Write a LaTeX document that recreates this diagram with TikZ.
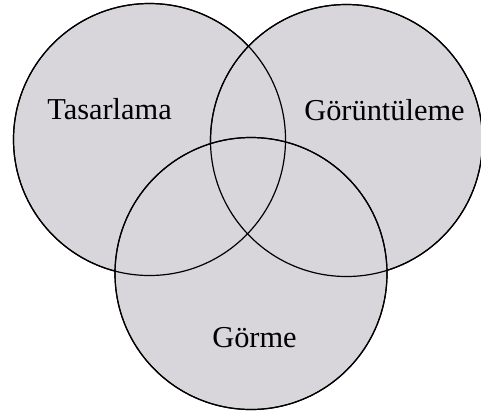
\documentclass[tikz,border=0pt]{standalone}
\usepackage{fontspec}
\setmainfont{Liberation Serif}
\definecolor{vennfill}{RGB}{216,214,219}
\tikzset{
  venn/.style={circle, draw=black, fill=vennfill, line width=1.2bp, minimum size=272bp, inner sep=0pt},
  vennline/.style={circle, draw=black, line width=1.2bp, minimum size=272bp, inner sep=0pt},
  vennlabel/.style={anchor=base, font=\fontsize{30.5}{36}\selectfont}
}
\begin{document}
\begin{tikzpicture}[x=1bp, y=-1bp]
  \useasboundingbox (0,0) rectangle (481,411);
  % ==== daireler ====
  \node[venn] (tas) at (149.5, 139.5) {};
  \node[venn] (gor) at (346.5, 140.5) {};
  \node[venn] (grm) at (251, 273.5) {};
  % kenar çizgileri (dolgu üstünde)
  \node[vennline] at (tas.center) {};
  \node[vennline] at (gor.center) {};
  \node[vennline] at (grm.center) {};
  % ==== etiketler ====
  \node[vennlabel] (ltas) at (109.5, 119) {Tasarlama};
  \node[vennlabel] (lgor) at (384.5, 120.5) {Görüntüleme};
  \node[vennlabel] (lgrm) at (254.5, 347) {Görme};
\end{tikzpicture}
\end{document}
